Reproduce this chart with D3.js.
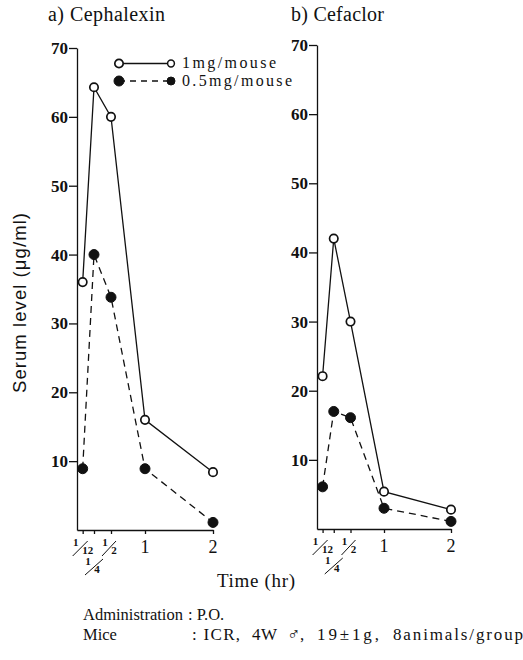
<!DOCTYPE html>
<html>
<head>
<meta charset="utf-8">
<script src="https://cdn.jsdelivr.net/npm/d3@7"></script>
<style>
  body { margin: 0; background: #fff; }
  svg { display: block; }
  .serif { font-family: "Liberation Serif", "Times New Roman", serif; }
  .sans { font-family: "Liberation Sans", Arial, sans-serif; }
  .axis path, .axis line { stroke: #111; stroke-width: 1.3; }
  .axis text { fill: #111; }
</style>
</head>
<body>
<svg id="chart" width="523" height="660"></svg>
<script>
// time points (hr)
const times = [1/12, 1/4, 1/2, 1, 2];
const timeLabels = [[1, 12], [1, 4], [1, 2], "1", "2"];
const yTicks = [10, 20, 30, 40, 50, 60, 70];

// serum levels (ug/ml)
const cephalexin1mg = [36, 64.3, 60, 16, 8.4];
const cephalexin05mg = [8.9, 40, 33.8, 8.9, 1.1];
const cefaclor1mg = [22.1, 42, 30, 5.4, 2.8];
const cefaclor05mg = [6.1, 17, 16.1, 3, 1.1];

const seriesNames = ["1mg/mouse", "0.5mg/mouse"];

const svg = d3.select("#chart");
const ink = "#111";

const panels = [
  {title: "a) Cephalexin", titleX: 48, titleW: 117, x0: 77, x1: 213, yTop: 48, yBot: 530,
   data: [cephalexin1mg, cephalexin05mg]},
  {title: "b) Cefaclor", titleX: 291, titleW: 93, x0: 317, x1: 451, yTop: 45, yBot: 529,
   data: [cefaclor1mg, cefaclor05mg]}
];

panels.forEach(p => {
  const x = d3.scaleLinear().domain([0, 2]).range([p.x0, p.x1]);
  const y = d3.scaleLinear().domain([0, 70]).range([p.yBot, p.yTop]);

  svg.append("text")
    .attr("class", "serif")
    .attr("x", p.titleX).attr("y", 21)
    .attr("font-size", 20)
    .attr("textLength", p.titleW)
    .attr("fill", ink)
    .text(p.title);

  // y axis
  const yAxisG = svg.append("g")
    .attr("class", "axis serif")
    .attr("transform", `translate(${p.x0},0)`)
    .call(d3.axisLeft(y).tickValues(yTicks).tickSize(8).tickSizeOuter(0).tickPadding(1));
  yAxisG.selectAll("text")
    .attr("font-size", 17).attr("font-weight", "bold")
    .attr("font-family", "Liberation Serif, Times New Roman, serif");

  // x axis
  svg.append("g")
    .attr("class", "axis serif")
    .attr("transform", `translate(0,${p.yBot})`)
    .call(d3.axisBottom(x).tickValues(times).tickSize(4).tickSizeOuter(0).tickFormat(""));

  // tick labels, fractions drawn as stacked numbers
  times.forEach((t, i) => {
    const lab = timeLabels[i];
    const g = svg.append("g")
      .attr("class", "serif")
      .attr("transform", `translate(${x(t)},${p.yBot})`)
      .attr("fill", ink);
    if (typeof lab === "string") {
      g.append("text").attr("y", 23).attr("text-anchor", "middle")
        .attr("font-size", 18).text(lab);
    } else {
      const low = lab[1] === 4 ? 19 : 0;
      const dx = lab[1] === 12 ? -1 : 0;
      g.append("text").attr("x", -6 + dx).attr("y", 16 + low)
        .attr("text-anchor", "middle").attr("font-size", 11).attr("font-weight", "bold").text(lab[0]);
      g.append("text").attr("x", lab[1] === 12 ? 5 : 3).attr("y", 24 + low)
        .attr("text-anchor", "middle").attr("font-size", 11).attr("font-weight", "bold").text(lab[1]);
      g.append("line")
        .attr("x1", -9 + dx).attr("y1", 26 + low)
        .attr("x2", lab[1] === 4 ? 9 : 5).attr("y2", lab[1] === 4 ? 10 + low : 11)
        .attr("stroke", ink).attr("stroke-width", 1);
    }
  });

  // lines + markers
  p.data.forEach((vals, si) => {
    const pts = vals.map((v, i) => [times[i], v]);
    svg.append("path")
      .attr("d", d3.line().x(d => x(d[0])).y(d => y(d[1]))(pts))
      .attr("fill", "none")
      .attr("stroke", ink)
      .attr("stroke-width", 1.3)
      .attr("stroke-dasharray", si === 1 ? "7,5" : null);
    svg.selectAll(null).data(pts).enter().append("circle")
      .attr("cx", d => x(d[0])).attr("cy", d => y(d[1]))
      .attr("r", si === 1 ? 5 : 4.2)
      .attr("fill", si === 1 ? ink : "#fff")
      .attr("stroke", ink)
      .attr("stroke-width", si === 1 ? 1 : 1.7);
  });
});

// legend
const legendW = [94, 110];
const legend = svg.append("g").attr("transform", "translate(119,63.5)");
seriesNames.forEach((name, i) => {
  const g = legend.append("g").attr("transform", `translate(0,${i * 17.5})`);
  g.append("line").attr("x1", 0).attr("x2", 52)
    .attr("stroke", ink).attr("stroke-width", 1.3)
    .attr("stroke-dasharray", i === 1 ? "6,5" : null);
  g.append("circle").attr("cx", 0).attr("r", i === 1 ? 5 : 4.2)
    .attr("fill", i === 1 ? ink : "#fff").attr("stroke", ink).attr("stroke-width", i === 1 ? 1 : 1.7);
  g.append("circle").attr("cx", 52).attr("r", i === 1 ? 4 : 3.4)
    .attr("fill", i === 1 ? ink : "#fff").attr("stroke", ink).attr("stroke-width", i === 1 ? 1 : 1.5);
  g.append("text").attr("class", "serif").attr("x", 63).attr("y", 4.5)
    .attr("font-size", 16).attr("textLength", legendW[i])
    .attr("fill", ink).text(name);
});

// axis titles
svg.append("text")
  .attr("class", "sans")
  .attr("transform", "translate(26,303) rotate(-90)")
  .attr("text-anchor", "middle")
  .attr("font-size", 18.5).attr("textLength", 180).attr("fill", ink)
  .text("Serum level (\u03bcg/ml)");

svg.append("text")
  .attr("class", "serif")
  .attr("x", 256).attr("y", 587)
  .attr("text-anchor", "middle")
  .attr("font-size", 19).attr("textLength", 78).attr("fill", ink)
  .text("Time (hr)");

// footnote
const footLabels = ["Administration", "Mice"];
const footAdmin = [": P.O."];
const footMice = [": ICR,", "4W", "\u2642", ",", "19\u00b11g,", "8animals/group"];
const miceX = [192, 252, 287, 300, 317, 393];
const miceW = [48, 25, null, null, 62, 130];
footLabels.forEach((t, i) => {
  svg.append("text").attr("class", "serif")
    .attr("x", 83).attr("y", 620 + i * 20)
    .attr("font-size", 16.5).attr("fill", ink).text(t);
});
svg.append("text").attr("class", "serif")
  .attr("x", 188).attr("y", 620)
  .attr("font-size", 16.5).attr("fill", ink).text(footAdmin[0]);
footMice.forEach((t, i) => {
  svg.append("text").attr("class", "serif")
    .attr("x", miceX[i]).attr("y", 640)
    .attr("font-size", t === "\u2642" ? 18 : 17)
    .attr("textLength", miceW[i])
    .attr("fill", ink).text(t);
});
</script>
</body>
</html>
